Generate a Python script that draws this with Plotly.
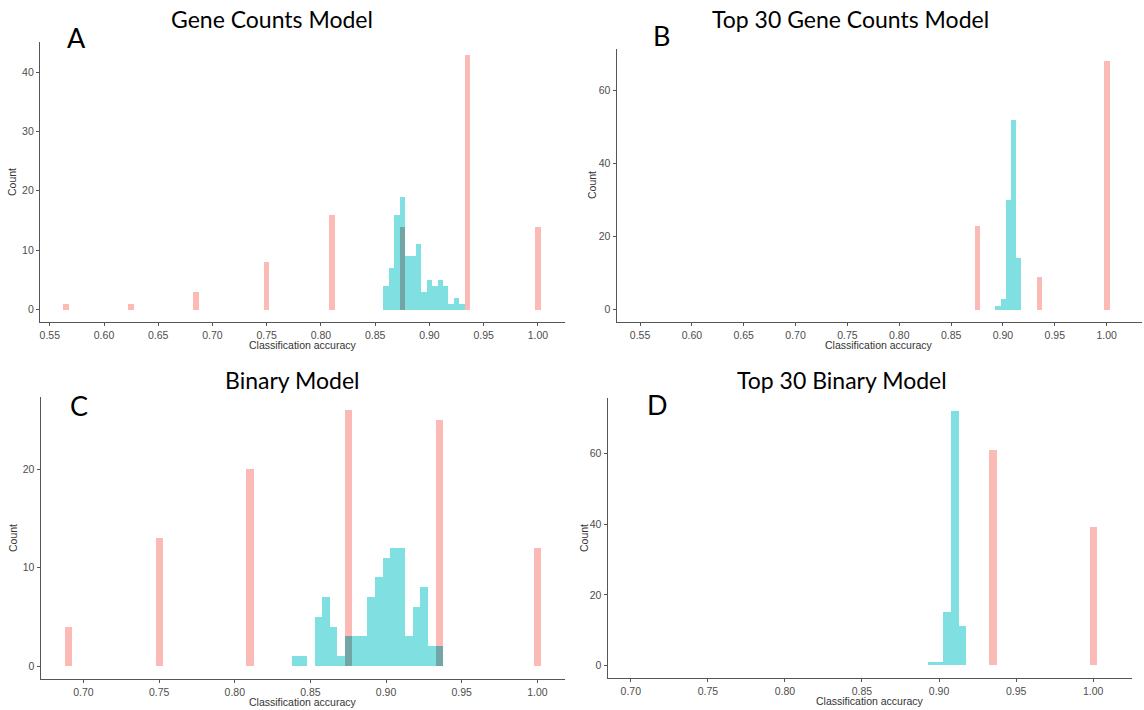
import plotly.graph_objects as go

# ---------------- data (bin centres, bin width 0.005) ----------------
A_pink_x = [0.565, 0.625, 0.685, 0.75, 0.81, 0.875, 0.935, 1.0]
A_pink_n = [1, 1, 3, 8, 16, 14, 43, 14]
A_cyan_x = [0.86, 0.865, 0.87, 0.875, 0.88, 0.885, 0.89, 0.895, 0.90, 0.905,
            0.91, 0.915, 0.92, 0.925, 0.93]
A_cyan_n = [4, 7, 16, 19, 9, 9, 11, 3, 5, 4, 5, 4, 1, 2, 1]

B_pink_x = [0.875, 0.935, 1.0]
B_pink_n = [23, 9, 68]
B_cyan_x = [0.895, 0.90, 0.905, 0.91, 0.915]
B_cyan_n = [1, 3, 30, 52, 14]

C_pink_x = [0.69, 0.75, 0.81, 0.875, 0.935, 1.0]
C_pink_n = [4, 13, 20, 26, 25, 12]
C_cyan_x = [0.84, 0.845, 0.85, 0.855, 0.86, 0.865, 0.87, 0.875, 0.88, 0.885,
            0.89, 0.895, 0.90, 0.905, 0.91, 0.915, 0.92, 0.925, 0.93, 0.935]
C_cyan_n = [1, 1, 0, 5, 7, 4, 1, 3, 3, 3, 7, 9, 11, 12, 12, 3, 6, 8, 2, 2]

D_pink_x = [0.935, 1.0]
D_pink_n = [61, 39]
D_cyan_x = [0.895, 0.90, 0.905, 0.91, 0.915]
D_cyan_n = [1, 1, 15, 72, 11]

titles = ["Gene Counts Model", "Top 30 Gene Counts Model", "Binary Model", "Top 30 Binary Model"]
letters = ["A", "B", "C", "D"]
x_title = "Classification accuracy"
y_title = "Count"

x_ticks_AB = [0.55, 0.60, 0.65, 0.70, 0.75, 0.80, 0.85, 0.90, 0.95, 1.00]
x_ticks_CD = [0.70, 0.75, 0.80, 0.85, 0.90, 0.95, 1.00]
y_ticks = [[0, 10, 20, 30, 40], [0, 20, 40, 60], [0, 10, 20], [0, 20, 40, 60]]

BIN_W = 0.005
PINK = "#fbbab6"
CYAN = "#80dfe1"
OVER = "#72a5a5"
AXC = "#555555"
TICKC = "#4d4d4d"

W, H = 1144, 710

# layout in pixels: (x0, x1, ytop, ybottom)
boxes = [(40, 565, 41.7, 322), (616.7, 1141.7, 49, 322),
         (40.7, 565, 397.3, 679), (607.7, 1131.7, 398.3, 678.3)]
xranges = [[0.541, 1.025], [0.5275, 1.0338], [0.67175, 1.01825], [0.685, 1.025]]
yranges = [[-2.15, 45.15], [-3.4, 71.4], [-1.3, 27.3], [-3.6, 75.6]]

data = [(A_pink_x, A_pink_n, A_cyan_x, A_cyan_n),
        (B_pink_x, B_pink_n, B_cyan_x, B_cyan_n),
        (C_pink_x, C_pink_n, C_cyan_x, C_cyan_n),
        (D_pink_x, D_pink_n, D_cyan_x, D_cyan_n)]

fig = go.Figure()
layout = {}
annotations = []

title_pos = [(272, 19), (850, 19), (292, 380), (842, 380)]
letter_pos = [(76, 37), (661, 35), (79, 405), (657, 404)]
count_pos = [(12, 182), (592, 185), (13, 538), (584, 538)]

for i, (px, pn, cx, cn) in enumerate(data):
    k = "" if i == 0 else str(i + 1)
    xa, ya = "x" + k, "y" + k
    # overlap heights where the two histograms share a bin
    ox, on = [], []
    for xv, nv in zip(px, pn):
        for xc, nc in zip(cx, cn):
            if abs(xv - xc) < 1e-9 and nc > 0:
                ox.append(xv)
                on.append(min(nv, nc))
    fig.add_trace(go.Bar(x=px, y=pn, width=BIN_W, marker=dict(color=PINK, line=dict(width=0)),
                         xaxis=xa, yaxis=ya, showlegend=False))
    fig.add_trace(go.Bar(x=cx, y=cn, width=BIN_W, marker=dict(color=CYAN, line=dict(width=0)),
                         xaxis=xa, yaxis=ya, showlegend=False))
    if ox:
        fig.add_trace(go.Bar(x=ox, y=on, width=BIN_W, marker=dict(color=OVER, line=dict(width=0)),
                             xaxis=xa, yaxis=ya, showlegend=False))

    x0, x1, yt, yb = boxes[i]
    xt = x_ticks_AB if i < 2 else x_ticks_CD
    layout["xaxis" + k] = dict(
        domain=[x0 / W, x1 / W], range=xranges[i], anchor=ya,
        tickvals=xt, ticktext=["%.2f" % v for v in xt],
        showline=True, linecolor=AXC, linewidth=1.3, ticks="outside", ticklen=3,
        tickcolor=AXC, tickwidth=1, showgrid=False, zeroline=False,
        tickfont=dict(family="Liberation Sans, Arial, sans-serif", size=10.5, color=TICKC),
        fixedrange=True)
    layout["yaxis" + k] = dict(
        domain=[1 - yb / H, 1 - yt / H], range=yranges[i], anchor=xa,
        tickvals=y_ticks[i], ticktext=[str(v) for v in y_ticks[i]],
        showline=True, linecolor=AXC, linewidth=1.3, ticks="outside", ticklen=3,
        tickcolor=AXC, tickwidth=1, showgrid=False, zeroline=False,
        tickfont=dict(family="Liberation Sans, Arial, sans-serif", size=10.5, color=TICKC),
        fixedrange=True)

    annotations.append(dict(text=titles[i], x=title_pos[i][0] / W, y=1 - title_pos[i][1] / H,
                            xref="paper", yref="paper", showarrow=False,
                            xanchor="center", yanchor="middle",
                            font=dict(family="Lato, sans-serif", size=23, color="#000000")))
    annotations.append(dict(text=letters[i], x=letter_pos[i][0] / W, y=1 - letter_pos[i][1] / H,
                            xref="paper", yref="paper", showarrow=False,
                            xanchor="center", yanchor="middle",
                            font=dict(family="Lato, sans-serif", size=27, color="#000000")))
    annotations.append(dict(text=x_title, x=(x0 + x1) / 2 / W, y=1 - (yb + 23) / H,
                            xref="paper", yref="paper", showarrow=False,
                            xanchor="center", yanchor="middle",
                            font=dict(family="Liberation Sans, Arial, sans-serif", size=10.5, color="#333333")))
    annotations.append(dict(text=y_title, x=count_pos[i][0] / W, y=1 - count_pos[i][1] / H,
                            xref="paper", yref="paper", showarrow=False, textangle=-90,
                            xanchor="center", yanchor="middle",
                            font=dict(family="Liberation Sans, Arial, sans-serif", size=10.5, color="#333333")))

fig.update_layout(**layout)
fig.update_layout(
    width=W, height=H, margin=dict(l=0, r=0, t=0, b=0),
    barmode="overlay", bargap=0,
    plot_bgcolor="white", paper_bgcolor="white",
    showlegend=False, annotations=annotations)

fig.write_html("out.html", config={"displayModeBar": False},
               post_script="document.body.style.margin='0';document.body.style.overflow='hidden';")
